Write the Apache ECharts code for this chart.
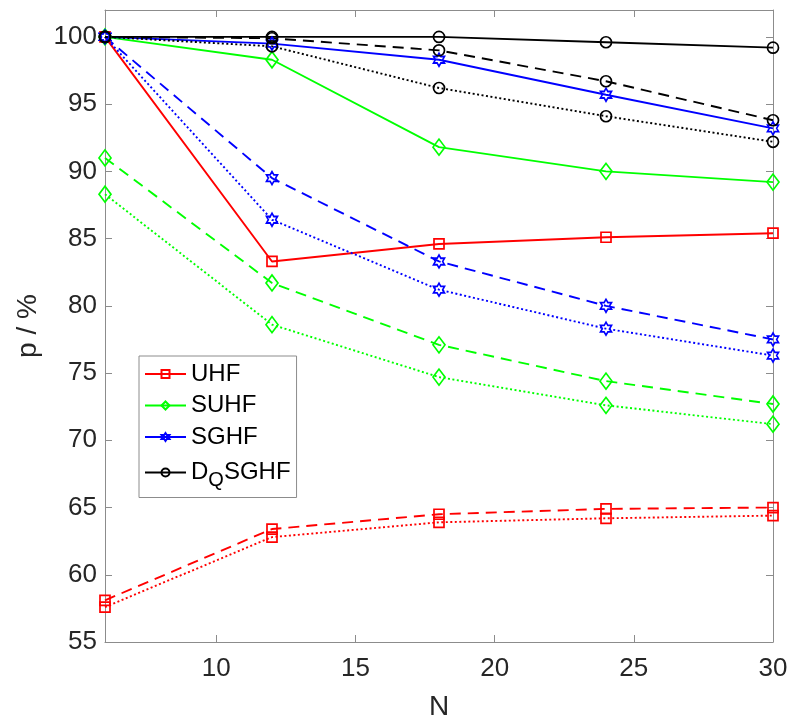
<!DOCTYPE html>
<html>
<head>
<meta charset="utf-8">
<script src="https://cdn.jsdelivr.net/npm/echarts@6/dist/echarts.min.js"></script>
<style>
html,body{margin:0;padding:0;background:#fff;}
#chart{width:790px;height:722px;}
</style>
</head>
<body>
<div id="chart"></div>
<script>
// ---- data ----
var N = [6, 12, 18, 24, 30];
var xTicks = [10, 15, 20, 25, 30];
var yTicks = [55, 60, 65, 70, 75, 80, 85, 90, 95, 100];

var UHF_solid  = [100, 83.3, 84.6, 85.1, 85.4];
var UHF_dash   = [58.1, 63.4, 64.5, 64.9, 65.0];
var UHF_dot    = [57.6, 62.8, 63.9, 64.2, 64.4];

var SUHF_solid = [100, 98.3, 91.8, 90.0, 89.2];
var SUHF_dash  = [91.0, 81.7, 77.1, 74.4, 72.7];
var SUHF_dot   = [88.3, 78.6, 74.7, 72.6, 71.2];

var SGHF_solid = [100, 99.5, 98.3, 95.7, 93.2];
var SGHF_dash  = [100, 89.5, 83.3, 80.0, 77.5];
var SGHF_dot   = [100, 86.4, 81.2, 78.3, 76.3];

var D_solid    = [100, 100, 100, 99.6, 99.2];
var D_dash     = [100, 99.9, 99.0, 96.7, 93.8];
var D_dot      = [100, 99.3, 96.2, 94.1, 92.2];

var legendNames = ['UHF', 'SUHF', 'SGHF', 'DQSGHF'];

// ---- styling ----
var HEX = 'path://M100,0 L71.13,50 L13.4,50 L42.3,100 L13.4,150 L71.13,150 L100,200 L128.87,150 L186.6,150 L157.7,100 L186.6,50 L128.87,50 Z';
var groups = [
  {name: 'UHF',    color: '#ff0000', symbol: 'rect',    size: [10, 10], data: [UHF_solid, UHF_dash, UHF_dot]},
  {name: 'SUHF',   color: '#00ff00', symbol: 'diamond', size: [12, 16], data: [SUHF_solid, SUHF_dash, SUHF_dot]},
  {name: 'SGHF',   color: '#0000ff', symbol: HEX,       size: [11, 13], data: [SGHF_solid, SGHF_dash, SGHF_dot]},
  {name: 'DQSGHF', color: '#000000', symbol: 'circle',  size: [11, 11], data: [D_solid, D_dash, D_dot]}
];
var styles = [
  {suffix: '', type: 'solid'},
  {suffix: ' dashed', type: [11, 7]},
  {suffix: ' dotted', type: [2, 2.5]}
];

var series = [];
groups.forEach(function (g) {
  styles.forEach(function (s, i) {
    series.push({
      name: g.name + s.suffix,
      type: 'line',
      data: N.map(function (x, k) { return [x, g.data[i][k]]; }),
      symbol: g.symbol,
      symbolSize: g.size,
      showAllSymbol: true,
      lineStyle: {color: g.color, width: 1.9, type: s.type},
      itemStyle: {color: 'rgba(255,255,255,0)', borderColor: g.color, borderWidth: 1.7},
      emphasis: {disabled: true},
      animation: false,
      z: 2
    });
  });
});

var axisGrey = '#8c8c8c';
var textCol = '#262626';
var font = 'Arial, "Liberation Sans", Helvetica, sans-serif';

var chart = echarts.init(document.getElementById('chart'), null, {renderer: 'canvas'});
chart.setOption({
  backgroundColor: '#fff',
  animation: false,
  grid: {left: 105, right: 17, top: 10, bottom: 80, containLabel: false, outerBoundsMode: 'none'},
  legend: {
    data: legendNames,
    orient: 'vertical',
    left: 139,
    top: 356,
    padding: [4, 6, 7, 5],
    itemWidth: 41,
    itemHeight: 10,
    itemGap: 3.5,
    backgroundColor: '#fff',
    borderColor: '#8c8c8c',
    borderWidth: 1,
    borderRadius: 0,
    selectedMode: false,
    textStyle: {
      color: '#000',
      fontSize: 24,
      lineHeight: 28,
      fontFamily: font,
      rich: {
        sub: {fontSize: 20, lineHeight: 28, padding: [16, 0, 0, 0], color: '#000', fontFamily: font}
      }
    },
    formatter: function (name) {
      return name === 'DQSGHF' ? 'D{sub|Q}SGHF' : name;
    }
  },
  xAxis: [{
    type: 'value',
    min: 6, max: 30,
    name: 'N',
    nameLocation: 'middle',
    nameGap: 51,
    nameTextStyle: {color: textCol, fontSize: 28, fontFamily: font},
    axisLine: {show: true, onZero: false, lineStyle: {color: axisGrey, width: 1}},
    axisTick: {show: true, inside: true, length: 7, lineStyle: {color: axisGrey}, customValues: xTicks},
    axisLabel: {color: textCol, fontSize: 26, fontFamily: font, margin: 14, customValues: xTicks},
    splitLine: {show: false}
  }, {
    type: 'value',
    min: 6, max: 30,
    position: 'top',
    axisLine: {show: true, onZero: false, lineStyle: {color: axisGrey, width: 1}},
    axisTick: {show: true, inside: true, length: 7, lineStyle: {color: axisGrey}, customValues: xTicks},
    axisLabel: {show: false},
    splitLine: {show: false}
  }],
  yAxis: [{
    type: 'value',
    min: 55, max: 102,
    name: 'p / %',
    nameLocation: 'middle',
    nameGap: 58,
    nameRotate: 90,
    nameTextStyle: {color: textCol, fontSize: 28, fontFamily: font},
    axisLine: {show: true, onZero: false, lineStyle: {color: axisGrey, width: 1}},
    axisTick: {show: true, inside: true, length: 7, lineStyle: {color: axisGrey}, customValues: yTicks},
    axisLabel: {color: textCol, fontSize: 26, fontFamily: font, margin: 8, customValues: yTicks},
    splitLine: {show: false}
  }, {
    type: 'value',
    min: 55, max: 102,
    position: 'right',
    axisLine: {show: true, onZero: false, lineStyle: {color: axisGrey, width: 1}},
    axisTick: {show: true, inside: true, length: 7, lineStyle: {color: axisGrey}, customValues: yTicks},
    axisLabel: {show: false},
    splitLine: {show: false}
  }],
  series: series
});
</script>
</body>
</html>
